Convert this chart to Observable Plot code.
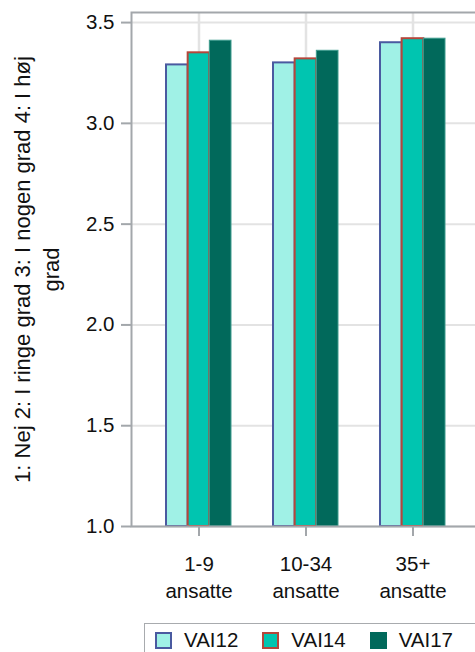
<!DOCTYPE html>
<html>
<head>
<meta charset="utf-8">
<script src="https://cdn.jsdelivr.net/npm/d3@7"></script>
<script src="https://cdn.jsdelivr.net/npm/@observablehq/plot@0.6"></script>
<style>
  html, body { margin: 0; padding: 0; background: #fff; overflow: hidden; width: 475px; height: 652px; position: relative; }
  #chart svg { display: block; max-width: none !important; }
  .legend { position: absolute; left: 144px; top: 623px; width: 340px; height: 40px; box-sizing: border-box;
            border: 1.5px solid #a8abae; padding-top: 4px;
            display: flex; align-items: flex-start; font-family: "Liberation Sans", Arial, sans-serif; font-size: 20.5px; color: #111; }
  .item { display: flex; align-items: center; line-height: 23px; }
  .sw { width: 13px; height: 13px; box-sizing: content-box; border: 2px solid; margin-right: 12px; margin-top: 1px; }
</style>
</head>
<body>
<div id="chart"></div>
<script>
const categories = ["1-9 ansatte", "10-34 ansatte", "35+ ansatte"];
const tickLabels = ["1-9\nansatte", "10-34\nansatte", "35+\nansatte"];
const series = ["VAI12", "VAI14", "VAI17"];
const vai12 = [3.29, 3.30, 3.40];
const vai14 = [3.35, 3.32, 3.42];
const vai17 = [3.41, 3.36, 3.42];
const yTicks = [1.0, 1.5, 2.0, 2.5, 3.0, 3.5];
const yLabel = "1: Nej 2: I ringe grad 3: I nogen grad 4: I høj\ngrad";

const fills = ["#a0f1e6", "#00c5b0", "#01695b"];
const strokes = ["#4a5aa0", "#b5463b", "#3e9c8e"];
const strokeW = [2, 2, 1];

const values = [vai12, vai14, vai17];
const data = series.map((s, si) => categories.map((c, ci) => ({cat: c, series: s, value: values[si][ci]})));

const W = 481, ML = 131, MR = 0;
const pIn = 0.3925, pOut = 0.3316;
const step = (W - ML - MR) / (categories.length - pIn + 2 * pOut);
const bw = step * (1 - pIn);
const third = bw / series.length;

const bars = data.map((d, si) => Plot.barY(d, {
  x: "cat", y1: 1, y2: "value",
  fill: fills[si], stroke: strokes[si], strokeWidth: strokeW[si],
  insetLeft: third * si, insetRight: third * (series.length - 1 - si)
}));

const plot = Plot.plot({
  width: W, height: 621,
  marginLeft: ML, marginRight: MR, marginTop: 12, marginBottom: 95,
  style: {fontFamily: "'Liberation Sans', Arial, sans-serif", fontSize: "20.5px", color: "#111", background: "#fff"},
  x: {domain: categories, paddingInner: pIn, paddingOuter: pOut, label: null},
  y: {domain: [1, 3.55], label: null},
  marks: [
    Plot.gridY(yTicks, {stroke: "#e3e3e3", strokeOpacity: 1, strokeWidth: 2}),
    Plot.gridX({stroke: "#e3e3e3", strokeOpacity: 1, strokeWidth: 2.5}),
    ...bars,
    Plot.frame({stroke: "#a3a7ab", strokeWidth: 2}),
    Plot.axisY(yTicks, {tickSize: 10, tickPadding: 7, stroke: "#a3a7ab", strokeWidth: 2, fill: "#111",
                        tickFormat: d => d.toFixed(1), label: null}),
    Plot.axisX({tickSize: 10, tickPadding: 15, stroke: "#a3a7ab", strokeWidth: 2, fill: "#111", lineHeight: 1.32,
                tickFormat: (d) => tickLabels[categories.indexOf(d)], label: null}),
    Plot.text([yLabel], {frameAnchor: "left", rotate: -90, dx: -96, lineHeight: 1.3, fontSize: 22, fill: "#111", textAnchor: "middle"})
  ]
});
document.getElementById("chart").appendChild(plot);

const legend = document.createElement("div");
legend.className = "legend";
const gaps = [10, 24, 24];
series.forEach((s, i) => {
  const it = document.createElement("div");
  it.className = "item";
  it.style.marginLeft = gaps[i] + "px";
  const sw = document.createElement("span");
  sw.className = "sw";
  sw.style.background = fills[i];
  sw.style.borderColor = i === 2 ? fills[i] : strokes[i];
  const tx = document.createElement("span");
  tx.textContent = s;
  it.appendChild(sw); it.appendChild(tx);
  legend.appendChild(it);
});
document.body.appendChild(legend);
</script>
</body>
</html>
